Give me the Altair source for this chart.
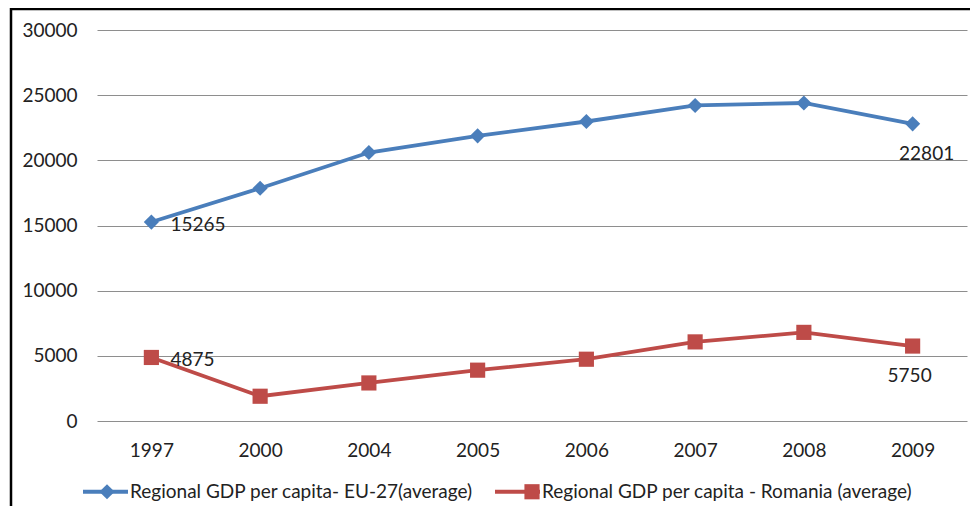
import altair as alt
import pandas as pd

years = ["1997", "2000", "2004", "2005", "2006", "2007", "2008", "2009"]
eu_values = [15265, 17860, 20600, 21880, 22980, 24210, 24400, 22801]
ro_values = [4875, 1900, 2920, 3900, 4740, 6070, 6800, 5750]
series_names = [
    "Regional GDP per capita- EU-27(average)",
    "Regional GDP per capita - Romania (average)",
]
series_keys = ["EU-27", "Romania"]
series_colors = ["#4A7EBB", "#BE4B48"]
series_shapes = ["diamond", "square"]
y_ticks = [0, 5000, 10000, 15000, 20000, 25000, 30000]

rows = []
for y, v in zip(years, eu_values):
    rows.append({"year": y, "value": v, "series": series_names[0], "key": series_keys[0]})
for y, v in zip(years, ro_values):
    rows.append({"year": y, "value": v, "series": series_names[1], "key": series_keys[1]})
df = pd.DataFrame(rows)

FONT = "Lato"
TXT = "#222222"
LW = 3.8
FS = 19

x_enc = alt.X(
    "year:N",
    sort=years,
    scale=alt.Scale(type="point", padding=0.5),
    axis=alt.Axis(
        title=None, labelAngle=0, domain=False, ticks=False, labelPadding=20,
        labelFont=FONT, labelFontSize=FS, labelColor=TXT, grid=False,
    ),
)
y_enc = alt.Y(
    "value:Q",
    scale=alt.Scale(domain=[0, 30000], nice=False),
    axis=alt.Axis(
        title=None, values=y_ticks, format="d", domain=False, ticks=False,
        labelPadding=20, labelFont=FONT, labelFontSize=FS, labelColor=TXT,
        grid=True, gridColor="#8E8E8E", gridWidth=1,
    ),
)

common_legend = dict(
    title=None, orient="none", direction="horizontal",
    labelFont=FONT, labelFontSize=FS, labelLimit=700,
    columnPadding=13,
)

# legend 1: line stubs + labels (from the line layer's colour scale)
line_legend = alt.Legend(
    **common_legend,
    legendX=-16, legendY=437,
    symbolType="stroke", symbolSize=2025, symbolStrokeWidth=LW,
    labelOffset=0, labelColor=TXT,
)
# legend 2: markers drawn on top of the stubs (from the point layer's fill/shape scales)
label_expr = "datum.value == '%s' ? '%s' : '%s'" % (series_keys[0], series_names[0], series_names[1])
marker_legend = alt.Legend(
    **common_legend,
    legendX=-16, legendY=452,
    symbolSize=230, symbolStrokeWidth=0, symbolOffset=16.5,
    labelOffset=33, labelOpacity=0, labelExpr=label_expr,
)

base = alt.Chart(df)

lines = base.mark_line(strokeWidth=LW).encode(
    x=x_enc, y=y_enc,
    color=alt.Color("series:N", scale=alt.Scale(domain=series_names, range=series_colors),
                    legend=line_legend),
)

points = base.mark_point(filled=True, opacity=1, size=230).encode(
    x=x_enc, y=y_enc,
    fill=alt.Fill("key:N", scale=alt.Scale(domain=series_keys, range=series_colors),
                  legend=marker_legend),
    shape=alt.Shape("key:N", scale=alt.Scale(domain=series_keys, range=series_shapes),
                    legend=marker_legend),
)

first_labels = base.transform_filter(alt.datum.year == years[0]).mark_text(
    align="left", baseline="middle", dx=19, dy=3, font=FONT, fontSize=FS, color=TXT
).encode(x=x_enc, y=y_enc, text=alt.Text("value:Q", format="d"))

eu_last_label = base.transform_filter(
    (alt.datum.year == years[-1]) & (alt.datum.key == series_keys[0])
).mark_text(
    align="center", baseline="middle", dx=14, dy=30, font=FONT, fontSize=FS, color=TXT
).encode(x=x_enc, y=y_enc, text=alt.Text("value:Q", format="d"))

ro_last_label = base.transform_filter(
    (alt.datum.year == years[-1]) & (alt.datum.key == series_keys[1])
).mark_text(
    align="center", baseline="middle", dx=-3, dy=30, font=FONT, fontSize=FS, color=TXT
).encode(x=x_enc, y=y_enc, text=alt.Text("value:Q", format="d"))

frame_df = pd.DataFrame({"k": [0]})
left_border = alt.Chart(frame_df).mark_rule(color="#000000", strokeWidth=2.5).encode(
    x=alt.value(-86), y=alt.value(-22), y2=alt.value(520)
)
top_border = alt.Chart(frame_df).mark_rule(color="#000000", strokeWidth=2.5).encode(
    x=alt.value(-87), x2=alt.value(900), y=alt.value(-21)
)

chart = alt.layer(
    lines, points, first_labels, eu_last_label, ro_last_label, left_border, top_border,
).properties(
    width=870,
    height=391,
    padding={"left": 89, "top": 22, "right": 3, "bottom": 85},
    autosize=alt.AutoSizeParams(type="none"),
    background="white",
).configure_view(stroke=None)

chart.save("out.html", embed_options={"renderer": "svg", "actions": False})
